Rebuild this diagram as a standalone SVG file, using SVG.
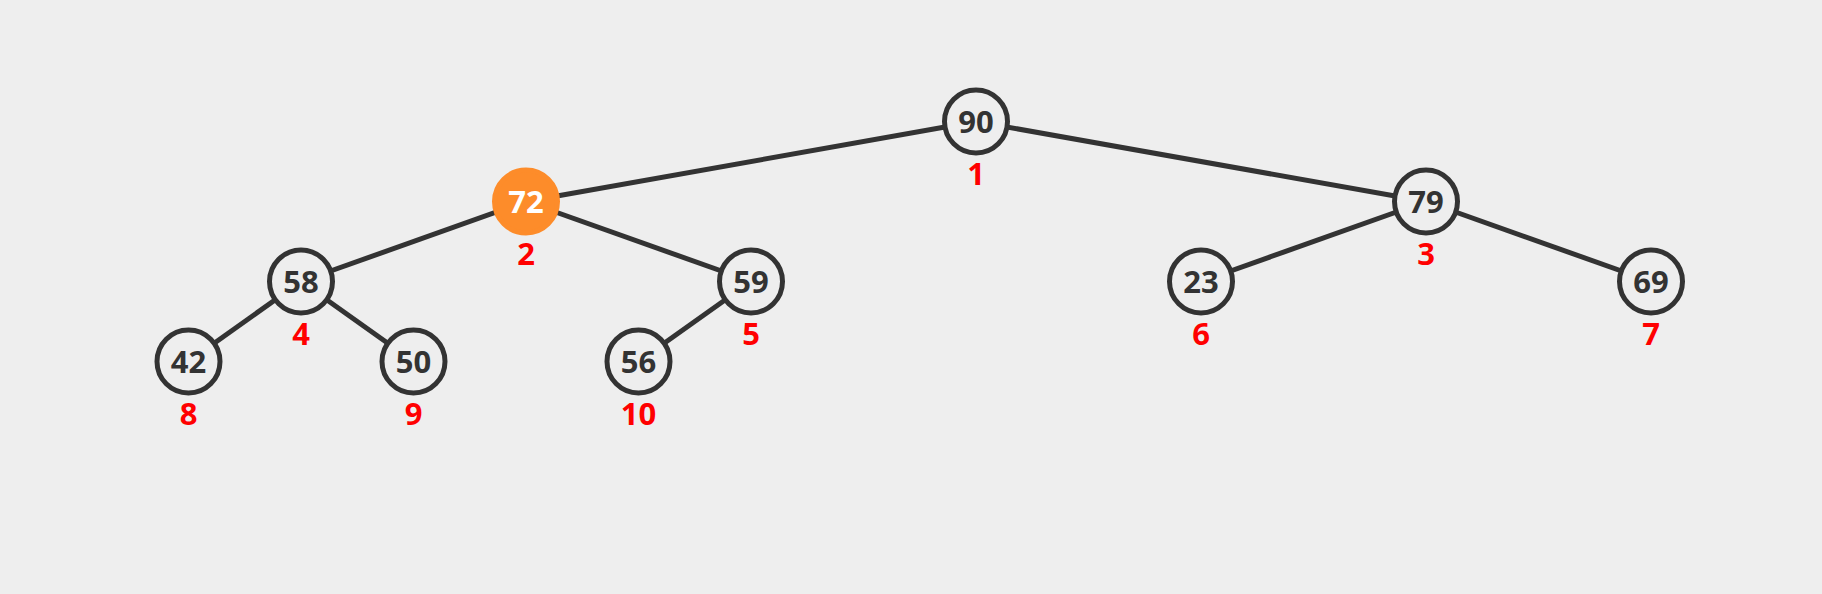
<svg xmlns="http://www.w3.org/2000/svg" width="1822" height="594" viewBox="0 0 1822 594">
<style>
.bg{fill:#eeeeee}
.edge{stroke:#333333;stroke-width:5;fill:none}
.node circle{fill:#eeeeee;stroke:#333333;stroke-width:5}
.node.hl circle{fill:#fd8c2a;stroke:#fd8c2a}
.val{font-family:"Open Sans","Liberation Sans",sans-serif;font-weight:bold;font-size:31px;fill:#333333;text-anchor:middle}
.hl .val{fill:#ffffff}
.idx{font-family:"Open Sans","Liberation Sans",sans-serif;font-weight:bold;font-size:31px;fill:#ff0000;text-anchor:middle}
</style>
<rect class="bg" x="0" y="0" width="1822" height="594"/>
<g id="connectors">
<line class="edge" x1="976" y1="121.5" x2="526" y2="201.5"/>
<line class="edge" x1="976" y1="121.5" x2="1426" y2="201.5"/>
<line class="edge" x1="526" y1="201.5" x2="301" y2="281.5"/>
<line class="edge" x1="526" y1="201.5" x2="751" y2="281.5"/>
<line class="edge" x1="1426" y1="201.5" x2="1201" y2="281.5"/>
<line class="edge" x1="1426" y1="201.5" x2="1651" y2="281.5"/>
<line class="edge" x1="301" y1="281.5" x2="188.5" y2="361.5"/>
<line class="edge" x1="301" y1="281.5" x2="413.5" y2="361.5"/>
<line class="edge" x1="751" y1="281.5" x2="638.5" y2="361.5"/>
</g>
<g id="node-90" class="node"><circle cx="976" cy="121.5" r="31.5"/><text class="val" x="976" y="133">90</text><text class="idx" x="976" y="185">1</text></g>
<g id="node-72" class="node hl"><circle cx="526" cy="201.5" r="31.5"/><text class="val" x="526" y="213">72</text><text class="idx" x="526" y="265">2</text></g>
<g id="node-79" class="node"><circle cx="1426" cy="201.5" r="31.5"/><text class="val" x="1426" y="213">79</text><text class="idx" x="1426" y="265">3</text></g>
<g id="node-58" class="node"><circle cx="301" cy="281.5" r="31.5"/><text class="val" x="301" y="293">58</text><text class="idx" x="301" y="345">4</text></g>
<g id="node-59" class="node"><circle cx="751" cy="281.5" r="31.5"/><text class="val" x="751" y="293">59</text><text class="idx" x="751" y="345">5</text></g>
<g id="node-23" class="node"><circle cx="1201" cy="281.5" r="31.5"/><text class="val" x="1201" y="293">23</text><text class="idx" x="1201" y="345">6</text></g>
<g id="node-69" class="node"><circle cx="1651" cy="281.5" r="31.5"/><text class="val" x="1651" y="293">69</text><text class="idx" x="1651" y="345">7</text></g>
<g id="node-42" class="node"><circle cx="188.5" cy="361.5" r="31.5"/><text class="val" x="188.5" y="373">42</text><text class="idx" x="188.5" y="425">8</text></g>
<g id="node-50" class="node"><circle cx="413.5" cy="361.5" r="31.5"/><text class="val" x="413.5" y="373">50</text><text class="idx" x="413.5" y="425">9</text></g>
<g id="node-56" class="node"><circle cx="638.5" cy="361.5" r="31.5"/><text class="val" x="638.5" y="373">56</text><text class="idx" x="638.5" y="425">10</text></g>
</svg>
